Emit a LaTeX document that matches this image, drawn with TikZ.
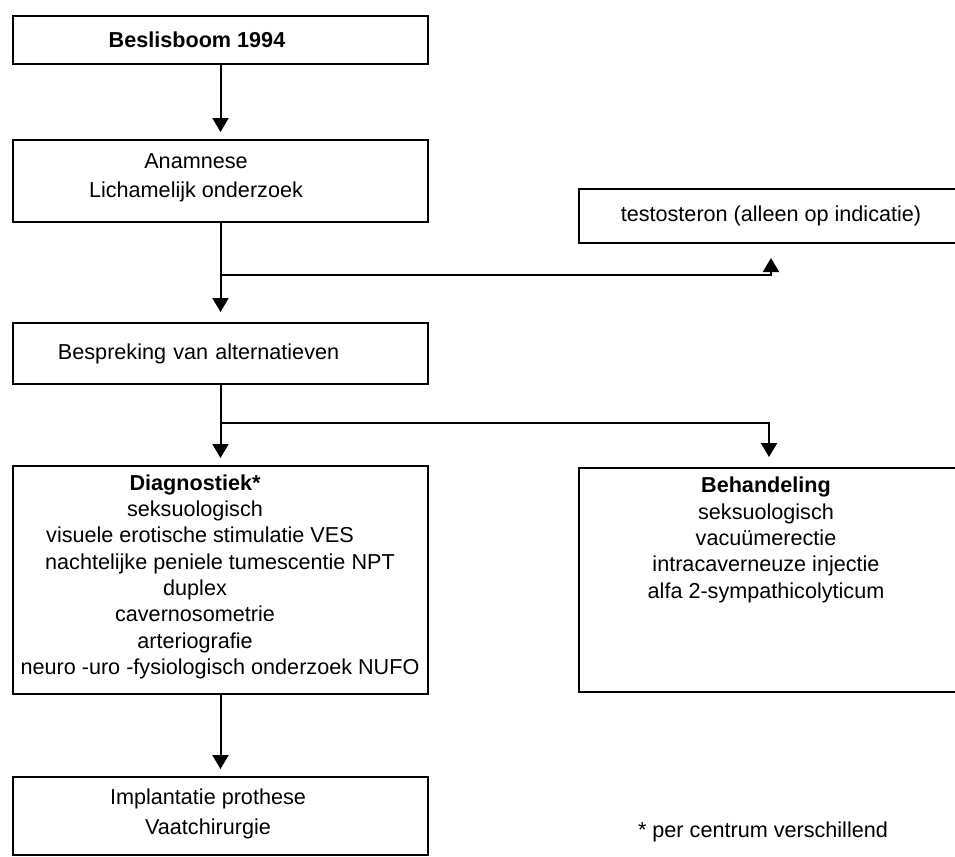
\documentclass[tikz,border=0pt]{standalone}
\usepackage{fontspec}
\setmainfont{Liberation Sans}
\usetikzlibrary{arrows.meta, positioning}

\begin{document}
\begin{tikzpicture}[
        x=0.2mm, y=-0.2mm,
        font=\fontsize{12.3}{15}\selectfont,
        box/.style={
            rectangle,
            draw=black,
            line width=0.4mm,
            minimum width=83mm,
            inner sep=0pt,
            outer sep=0pt
        },
        txt/.style={
            align=center,
            inner sep=0pt
        },
        link/.style={
            -{Triangle[width=3.2mm,length=2.8mm]},
            draw=black,
            line width=0.4mm,
            shorten >=1.6mm
        }
    ]
        \useasboundingbox (0,0) rectangle (955,857);
        \clip (0,0) rectangle (955,857);

        % left column
        \node (beslis) [box, minimum height=9.6mm] at (220.5,40) {};
        \node (anam) [box, minimum height=16.4mm, below=15.2mm of beslis] {};
        \node (bespr) [box, minimum height=12.2mm, below=20.2mm of anam, text width=65mm, align=left] {Bespreking van alternatieven};
        \node (diag) [box, minimum height=45.6mm, below=16.4mm of bespr] {};
        \node (impl) [box, minimum height=15.6mm, below=16.6mm of diag] {};

        % right column
        \node (testo) [box, minimum width=76.8mm, minimum height=10.8mm] at (771,216) {testosteron (alleen op indicatie)};
        \node (behand) [box, minimum width=76mm, minimum height=44.8mm, right=30.2mm of diag] {};

        % texts
        \node (beslis-t) [txt] at ([xshift=-4.7mm]beslis.center) {\textbf{Beslisboom 1994}};
        \node (anam-t) [txt] at ([xshift=-4.9mm, yshift=0.6mm]anam.center) {Anamnese\\[0.5mm] Lichamelijk onderzoek};
        \node (diag-t) [txt, anchor=north] at ([xshift=-5.1mm, yshift=-1.6mm]diag.north) {\textbf{Diagnostiek*}\\seksuologisch\\\hspace*{2mm}visuele erotische stimulatie VES\\\hspace*{10mm}nachtelijke peniele tumescentie NPT\\duplex\\cavernosometrie\\arteriografie\\\hspace*{10mm}neuro -uro -fysiologisch onderzoek NUFO};
        \node (impl-t) [txt] at ([xshift=-2.5mm, yshift=0.4mm]impl.center) {Implantatie prothese\\[0.7mm] Vaatchirurgie};
        \node (behand-t) [txt] at ([xshift=-0.6mm, yshift=8mm]behand.center) {\textbf{Behandeling}\\seksuologisch\\vacuümerectie\\intracaverneuze injectie\\alfa 2-sympathicolyticum};
        \node (note) [txt] at (763,832) {* per centrum verschillend};

        \coordinate (j1) at (220.5,275);
        \coordinate (j2) at (220.5,423);

        \draw [link] (beslis) -- (anam);
        \draw [link, shorten >=2.2mm] (anam) -- (bespr);
        \draw [link, shorten >=3mm] (j1) -| (testo);
        \draw [link] (bespr) -- (diag);
        \draw [link, shorten >=2.2mm] (j2) -| (behand);
        \draw [link] (diag) -- (impl);
    \end{tikzpicture}
\end{document}
